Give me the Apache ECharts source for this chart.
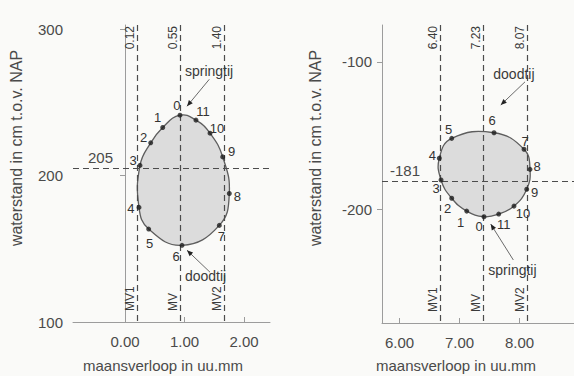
<!DOCTYPE html>
<html>
<head>
<meta charset="utf-8">
<script src="https://cdn.jsdelivr.net/npm/echarts@6/dist/echarts.min.js"></script>
<style>
  html, body { margin: 0; padding: 0; background: #fafaf8; }
  #chart { width: 574px; height: 376px; }
</style>
</head>
<body>
<div id="chart"></div>
<script>
// maansverloop (uur, decimaal) en waterstand (cm NAP) per maansuur 0..11
var hourLabels = ['0', '1', '2', '3', '4', '5', '6', '7', '8', '9', '10', '11']

// links: hoogwater
var hwX = [0.924, 0.634, 0.432, 0.252, 0.235, 0.398, 0.958, 1.585, 1.753, 1.642, 1.429, 1.193]
var hwY = [241.3, 232.9, 222.4, 207.0, 178.3, 163.5, 152.4, 166.0, 187.8, 212.8, 229.0, 237.9]
var hwMvX = [0.2, 0.9167, 1.6667]
var hwMvTop = ['0.12', '0.55', '1.40']
var hwMean = 205
var hwXTicks = [0, 1, 2]
var hwYTicks = [100, 200, 300]

// rechts: laagwater
var lwX = [7.408, 7.120, 6.870, 6.692, 6.663, 6.870, 7.575, 8.075, 8.175, 8.120, 7.908, 7.653]
var lwY = [-205.0, -201.2, -192.5, -180.1, -165.4, -151.9, -148.1, -159.3, -172.9, -186.4, -197.8, -203.2]
var lwMvX = [6.6667, 7.3833, 8.1167]
var lwMvTop = ['6.40', '7.23', '8.07']
var lwMean = -181
var lwXTicks = [6, 7, 8]
var lwYTicks = [-100, -200]

var mvNames = ['MV1', 'MV', 'MV2']

var FONT = "'Liberation Sans', Arial, sans-serif"
var TXT = '#4a4a4a'

// offsets (px) of the hour numbers next to the dots
var hwLabelOff = [[-3, -10], [-5, -10], [-7, -5], [-7, -5], [-8, 1], [1, 14], [-6, 11], [2, 11], [8, 3], [9, -5], [7, -5], [7, -9]]
var lwLabelOff = [[-5, 10], [-6, 11], [-4, 10], [-5, 9], [-7, -3], [-3, -9], [-2, -12], [1, -8], [7, -3], [8, 3], [9, 7], [5, 10]]

function xAxisOf(idx, min, max, ticks) {
  return {
    type: 'value', gridIndex: idx, min: min, max: max,
    axisLine: { lineStyle: { color: '#9c9c9c', width: 1 } },
    axisTick: { inside: true, length: 5, customValues: ticks, lineStyle: { color: '#9c9c9c' } },
    axisLabel: {
      customValues: ticks, margin: 12, color: TXT, fontSize: 15, fontFamily: FONT,
      formatter: function (v) { return v.toFixed(2) }
    },
    splitLine: { show: false }
  }
}

function yAxisOf(idx, min, max, ticks) {
  return {
    type: 'value', gridIndex: idx, min: min, max: max,
    axisLine: { show: true, lineStyle: { color: '#9c9c9c', width: 1 } },
    axisTick: { show: true, length: 5, customValues: ticks, lineStyle: { color: '#9c9c9c' } },
    axisLabel: { customValues: ticks, margin: 10, color: TXT, fontSize: 15, fontFamily: FONT },
    splitLine: { show: false }
  }
}

function eggSeries(idx, xs, ys) {
  return {
    type: 'custom', xAxisIndex: idx, yAxisIndex: idx, z: 1, silent: true,
    data: [[xs[0], ys[0]]],
    renderItem: function (params, api) {
      var pts = xs.map(function (x, i) { return api.coord([x, ys[i]]) })
      return {
        type: 'polygon',
        shape: { points: pts, smooth: 0.45 },
        style: { fill: '#dcdcdc', stroke: '#5e5e5e', lineWidth: 1.3 }
      }
    }
  }
}

function guideSeries(idx, mvX, mvTop, mean, meanDx) {
  return {
    type: 'custom', xAxisIndex: idx, yAxisIndex: idx, z: 2, silent: true,
    data: [[mvX[0], mean]],
    renderItem: function (params, api) {
      var cs = params.coordSys
      var bottom = cs.y + cs.height
      var dash = { stroke: '#4c4c4c', lineWidth: 1.2, lineDash: [6, 4] }
      var kids = []
      mvX.forEach(function (x, i) {
        var px = Math.round(api.coord([x, mean])[0]) + 0.5
        kids.push({ type: 'line', shape: { x1: px, y1: cs.y, x2: px, y2: bottom }, style: dash })
        kids.push({
          type: 'text', x: px - 2, y: cs.y + 1, rotation: Math.PI / 2,
          style: { text: mvTop[i], align: 'right', verticalAlign: 'bottom', fontSize: 12, fontFamily: FONT, fill: '#3a3a3a' }
        })
        kids.push({
          type: 'text', x: px - 2, y: bottom - 11, rotation: Math.PI / 2,
          style: { text: mvNames[i], align: 'left', verticalAlign: 'bottom', fontSize: 12, fontFamily: FONT, fill: '#3a3a3a' }
        })
      })
      var py = Math.round(api.coord([mvX[0], mean])[1]) + 0.5
      kids.push({ type: 'line', shape: { x1: cs.x, y1: py, x2: cs.x + cs.width, y2: py }, style: dash })
      kids.push({
        type: 'text', x: cs.x + meanDx, y: py - 4,
        style: { text: String(mean), align: 'left', verticalAlign: 'bottom', fontSize: 15, fontFamily: FONT, fill: TXT }
      })
      return { type: 'group', children: kids }
    }
  }
}

// annotation: text + leader line with a small arrow head
function noteSeries(idx, notes) {
  return {
    type: 'custom', xAxisIndex: idx, yAxisIndex: idx, z: 4, silent: true,
    data: [[notes[0].text[0], notes[0].text[1]]],
    renderItem: function (params, api) {
      var kids = []
      notes.forEach(function (n) {
        var t = api.coord(n.text), a = api.coord(n.from), b = api.coord(n.tip)
        kids.push({
          type: 'text', x: t[0], y: t[1],
          style: { text: n.label, align: 'left', verticalAlign: 'middle', fontSize: 14, fontFamily: FONT, fill: '#3a3a3a' }
        })
        kids.push({ type: 'line', shape: { x1: a[0], y1: a[1], x2: b[0], y2: b[1] }, style: { stroke: '#6a6a6a', lineWidth: 1 } })
        var dx = b[0] - a[0], dy = b[1] - a[1], len = Math.sqrt(dx * dx + dy * dy)
        var ux = dx / len, uy = dy / len
        kids.push({
          type: 'polygon',
          shape: { points: [[b[0], b[1]], [b[0] - ux * 6 - uy * 2.5, b[1] - uy * 6 + ux * 2.5], [b[0] - ux * 6 + uy * 2.5, b[1] - uy * 6 - ux * 2.5]] },
          style: { fill: '#222' }
        })
      })
      return { type: 'group', children: kids }
    }
  }
}

function dotSeries(idx, xs, ys) {
  return {
    type: 'scatter', xAxisIndex: idx, yAxisIndex: idx, z: 3, silent: true,
    symbolSize: 5,
    itemStyle: { color: '#1e1e1e' },
    data: xs.map(function (x, i) { return [x, ys[i]] })
  }
}

// hour numbers beside the dots
function hourSeries(idx, xs, ys, offs) {
  return {
    type: 'custom', xAxisIndex: idx, yAxisIndex: idx, z: 4, silent: true,
    data: xs.map(function (x, i) { return [x, ys[i]] }),
    renderItem: function (params, api) {
      var i = params.dataIndex
      var p = api.coord([api.value(0), api.value(1)])
      return {
        type: 'text', x: p[0] + offs[i][0], y: p[1] + offs[i][1],
        style: { text: hourLabels[i], align: 'center', verticalAlign: 'middle', fontSize: 13, fontFamily: FONT, fill: '#333' }
      }
    }
  }
}

var chart = echarts.init(document.getElementById('chart'), null, { renderer: 'svg' })

var option = {
  backgroundColor: '#fafaf8',
  animation: false,
  grid: [
    { left: 73, top: 25, width: 197, height: 297, outerBoundsMode: 'none' },
    { left: 382, top: 25, width: 192, height: 298, outerBoundsMode: 'none' }
  ],
  xAxis: [
    xAxisOf(0, -0.874, 2.437, hwXTicks),
    xAxisOf(1, 5.708, 8.908, lwXTicks)
  ],
  yAxis: [
    yAxisOf(0, 100, 302.9, hwYTicks),
    yAxisOf(1, -277, -75.1, lwYTicks)
  ],
  graphic: [
    { type: 'text', x: 16, y: 148, rotation: Math.PI / 2, style: { text: 'waterstand in cm t.o.v. NAP', align: 'center', verticalAlign: 'middle', textAlign: 'center', textVerticalAlign: 'middle', fontSize: 16, fontFamily: FONT, fill: TXT } },
    { type: 'text', x: 315, y: 148, rotation: Math.PI / 2, style: { text: 'waterstand in cm t.o.v. NAP', align: 'center', verticalAlign: 'middle', textAlign: 'center', textVerticalAlign: 'middle', fontSize: 16, fontFamily: FONT, fill: TXT } },
    { type: 'text', x: 163, y: 365, style: { text: 'maansverloop in uu.mm', align: 'center', verticalAlign: 'middle', textAlign: 'center', textVerticalAlign: 'middle', fontSize: 15, fontFamily: FONT, fill: TXT } },
    { type: 'text', x: 456, y: 365, style: { text: 'maansverloop in uu.mm', align: 'center', verticalAlign: 'middle', textAlign: 'center', textVerticalAlign: 'middle', fontSize: 15, fontFamily: FONT, fill: TXT } }
  ],
  series: [
    eggSeries(0, hwX, hwY),
    guideSeries(0, hwMvX, hwMvTop, hwMean, 15),
    dotSeries(0, hwX, hwY),
    hourSeries(0, hwX, hwY, hwLabelOff),
    noteSeries(0, [
      { label: 'springtij', text: [1.008, 271.5], from: [1.417, 265.8], tip: [1.042, 247.4] },
      { label: 'doodtij', text: [1.008, 131.5], from: [1.429, 134], tip: [1.042, 149] }
    ]),
    eggSeries(1, lwX, lwY),
    guideSeries(1, lwMvX, lwMvTop, lwMean, 8),
    dotSeries(1, lwX, lwY),
    hourSeries(1, lwX, lwY, lwLabelOff),
    noteSeries(1, [
      { label: 'doodtij', text: [7.563, -108.3], from: [8.092, -113.6], tip: [7.687, -129.3] },
      { label: 'springtij', text: [7.48, -241.1], from: [7.897, -234.3], tip: [7.52, -210] }
    ])
  ]
}

chart.setOption(option)
</script>
</body>
</html>
